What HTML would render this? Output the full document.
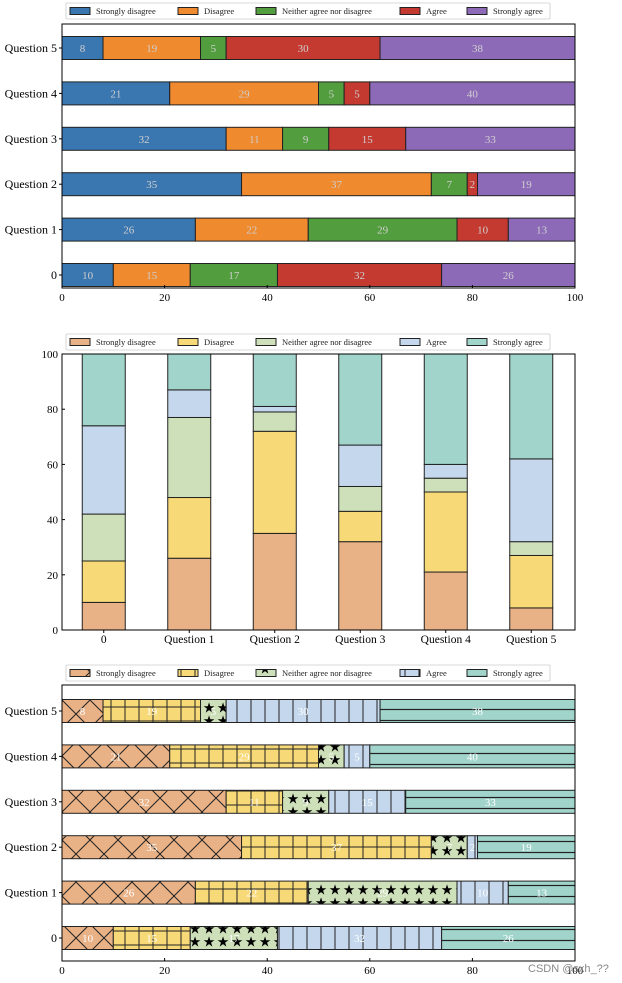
<!DOCTYPE html>
<html><head><meta charset="utf-8">
<style>
html,body{margin:0;padding:0;background:#fff;}
svg{display:block;font-family:"Liberation Serif",serif;}
</style></head>
<body>
<svg id="chart" width="622" height="983" viewBox="0 0 622 983">
<defs>
<pattern id="hx" patternUnits="userSpaceOnUse" width="28" height="28" x="62" y="0"><rect width="28" height="28" fill="#e9b186"/><path d="M0,0L28,28M28,0L0,28" stroke="#222" stroke-width="1"/></pattern>
<pattern id="hp" patternUnits="userSpaceOnUse" width="14" height="14" x="62" y="0"><rect width="14" height="14" fill="#f8d978"/><path d="M0,7H14M7,0V14" stroke="#222" stroke-width="1"/></pattern>
<pattern id="hs" patternUnits="userSpaceOnUse" width="14" height="13" x="62" y="0"><rect width="14" height="13" fill="#cde0b9"/><text x="7" y="10.5" font-size="14" text-anchor="middle" fill="#000">★</text></pattern>
<pattern id="hv" patternUnits="userSpaceOnUse" width="14" height="14" x="62" y="0"><rect width="14" height="14" fill="#c4d7ec"/><path d="M7,0V14" stroke="#222" stroke-width="1"/></pattern>
<pattern id="hh" patternUnits="userSpaceOnUse" width="14" height="11" x="0" y="0"><rect width="14" height="11" fill="#a1d4cb"/><path d="M0,5.5H14" stroke="#222" stroke-width="1.2"/></pattern>
</defs>
</svg>
<script>
const categories = ["0","Question 1","Question 2","Question 3","Question 4","Question 5"];
const seriesNames = ["Strongly disagree","Disagree","Neither agree nor disagree","Agree","Strongly agree"];
const stronglyDisagree = [10,26,35,32,21,8];
const disagree = [15,22,37,11,29,19];
const neither = [17,29,7,9,5,5];
const agree = [32,10,2,15,5,30];
const stronglyAgree = [26,13,19,33,40,38];
const valueTicks = [0,20,40,60,80,100];

const series = [stronglyDisagree, disagree, neither, agree, stronglyAgree];
const svg = document.getElementById('chart');
const NS = 'http://www.w3.org/2000/svg';
function mk(tag, attrs, parent){const e=document.createElementNS(NS,tag);for(const k in attrs)e.setAttribute(k,attrs[k]);(parent||svg).appendChild(e);return e;}

const pal1 = ["#3a76af","#ef8a2f","#529e3e","#c43a31","#8d6ab8"];
const pal2 = ["#e9b186","#f8d978","#cde0b9","#c4d7ec","#a1d4cb"];
const pal3 = ["url(#hx)","url(#hp)","url(#hs)","url(#hv)","url(#hh)"];
const legX = [70,178,256,400,467];

function legend(y, fills){
  const g = mk('g',{});
  
  
  mk('rect',{x:66,y:y-8,width:484,height:16,fill:'#fff',stroke:'#ccc','stroke-width':0.8,rx:1},g);
  seriesNames.forEach((n,i)=>{
    const e = mk('g',{},g);
    
    
    mk('rect',{x:legX[i],y:y-3.5,width:20,height:7,fill:fills[i],stroke:'#222','stroke-width':1},e);
    const t = mk('text',{x:legX[i]+26,y:y+3,'font-size':8.5,fill:'#222'},e);
    t.textContent = n;
  });
}

function hChart(top, bottom, firstY, lastY, fills, textColor, name){
  const L=62,R=575;
  const g = mk('g',{});
  
  
  const xs = v => L + (R-L)*v/100;
  const yc = i => firstY - i*(firstY-lastY)/5;
  const h = 23;
  categories.forEach((c,i)=>{
    let acc=0;
    series.forEach((s,j)=>{
      const v=s[i];
      const r = mk('rect',{x:xs(acc),y:yc(i)-h/2,width:xs(acc+v)-xs(acc),height:h,fill:fills[j],stroke:'#222','stroke-width':1},g);
      
      
      const t = mk('text',{x:xs(acc+v/2),y:yc(i)+4,'font-size':11,'text-anchor':'middle',fill:textColor},g);
      t.textContent = v;
      acc+=v;
    });
    mk('line',{x1:L-3,x2:L,y1:yc(i),y2:yc(i),stroke:'#000'},g);
    const lt = mk('text',{x:L-5,y:yc(i)+4,'font-size':12,'text-anchor':'end',fill:'#000'},g);
    
    
    lt.textContent = c;
  });
  mk('rect',{x:L,y:top,width:R-L,height:bottom-top,fill:'none',stroke:'#000','stroke-width':1},g);
  valueTicks.forEach(v=>{
    mk('line',{x1:xs(v),x2:xs(v),y1:bottom,y2:bottom-3,stroke:'#000'},g);
    const t = mk('text',{x:xs(v),y:bottom+13,'font-size':11,'text-anchor':'middle',fill:'#000'},g);
    
    
    t.textContent = v;
  });
}

function vChart(top,bottom){
  const L=62,R=575;
  const g = mk('g',{});
  
  
  const ys = v => bottom - (bottom-top)*v/100;
  const step=(R-L)/6;
  const xc = i => L + step*(i+0.5) - 1;
  const w = 43;
  categories.forEach((c,i)=>{
    let acc=0;
    series.forEach((s,j)=>{
      const v=s[i];
      const r = mk('rect',{x:xc(i)-w/2,y:ys(acc+v),width:w,height:ys(acc)-ys(acc+v),fill:pal2[j],stroke:'#222','stroke-width':1},g);
      
      
      acc+=v;
    });
    mk('line',{x1:xc(i),x2:xc(i),y1:bottom,y2:bottom+3,stroke:'#000'},g);
    const t = mk('text',{x:xc(i),y:bottom+13,'font-size':11.5,'text-anchor':'middle',fill:'#000'},g);
    
    
    t.textContent = c;
  });
  mk('rect',{x:L,y:top,width:R-L,height:bottom-top,fill:'none',stroke:'#000','stroke-width':1},g);
  valueTicks.forEach(v=>{
    mk('line',{x1:L,x2:L+3,y1:ys(v),y2:ys(v),stroke:'#000'},g);
    const t = mk('text',{x:L-4,y:ys(v)+4,'font-size':11,'text-anchor':'end',fill:'#000'},g);
    
    
    t.textContent = v;
  });
}

legend(11, pal1);
hChart(24, 288, 275, 48, pal1, '#cfcfcf', 'horizontal-stacked-chart');
legend(342, pal2);
vChart(354, 630);
legend(673, pal3);
hChart(685, 961, 938, 711, pal3, '#ffffff', 'hatched-stacked-chart');
const wm = mk('text',{x:528,y:972,'font-size':11,fill:'#888','font-family':'Liberation Sans, sans-serif'});


wm.textContent = 'CSDN @sxh_??';
</script>
</body></html>
